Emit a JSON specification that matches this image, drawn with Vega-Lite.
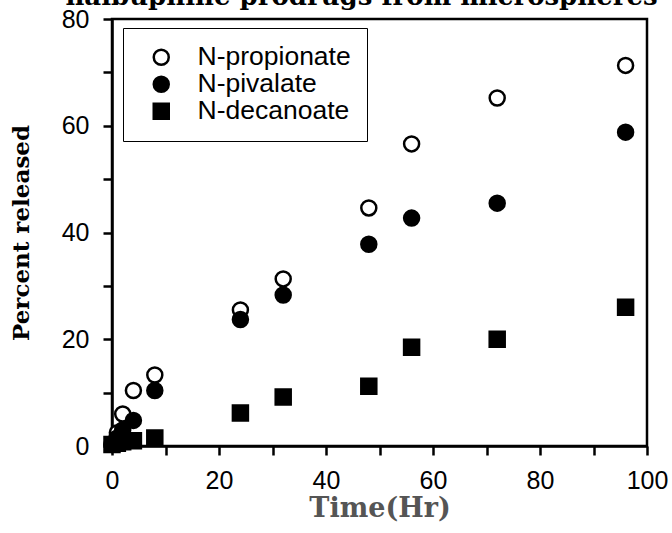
{
  "$schema": "https://vega.github.io/schema/vega-lite/v6.json",
  "width": 535,
  "height": 427,
  "autosize": {"type": "none"},
  "padding": {"left": 112, "top": 19, "right": 25, "bottom": 87},
  "background": "white",
  "title": {
    "text": "nalbuphine prodrugs from microspheres",
    "anchor": "middle",
    "dx": -18,
    "dy": 21,
    "baseline": "alphabetic",
    "offset": -3,
    "font": "DejaVu Serif",
    "fontWeight": "bold",
    "fontSize": 26,
    "color": "black"
  },
  "data": {
    "values": [
      {"ester": "N-propionate", "time": 0, "released": 0.3},
      {"ester": "N-propionate", "time": 1, "released": 2.5},
      {"ester": "N-propionate", "time": 2, "released": 6},
      {"ester": "N-propionate", "time": 4, "released": 10.4},
      {"ester": "N-propionate", "time": 8, "released": 13.3},
      {"ester": "N-propionate", "time": 24, "released": 25.5},
      {"ester": "N-propionate", "time": 32, "released": 31.3},
      {"ester": "N-propionate", "time": 48, "released": 44.6},
      {"ester": "N-propionate", "time": 56, "released": 56.6},
      {"ester": "N-propionate", "time": 72, "released": 65.2},
      {"ester": "N-propionate", "time": 96, "released": 71.3},
      {"ester": "N-pivalate", "time": 0, "released": 0.3},
      {"ester": "N-pivalate", "time": 1, "released": 1.5},
      {"ester": "N-pivalate", "time": 2, "released": 3},
      {"ester": "N-pivalate", "time": 4, "released": 4.8},
      {"ester": "N-pivalate", "time": 8, "released": 10.4},
      {"ester": "N-pivalate", "time": 24, "released": 23.7},
      {"ester": "N-pivalate", "time": 32, "released": 28.3},
      {"ester": "N-pivalate", "time": 48, "released": 37.8},
      {"ester": "N-pivalate", "time": 56, "released": 42.7},
      {"ester": "N-pivalate", "time": 72, "released": 45.5},
      {"ester": "N-pivalate", "time": 96, "released": 58.8},
      {"ester": "N-decanoate", "time": 0, "released": 0.3},
      {"ester": "N-decanoate", "time": 1, "released": 0.5},
      {"ester": "N-decanoate", "time": 2, "released": 0.8},
      {"ester": "N-decanoate", "time": 4, "released": 1},
      {"ester": "N-decanoate", "time": 8, "released": 1.5},
      {"ester": "N-decanoate", "time": 24, "released": 6.2},
      {"ester": "N-decanoate", "time": 32, "released": 9.2},
      {"ester": "N-decanoate", "time": 48, "released": 11.2},
      {"ester": "N-decanoate", "time": 56, "released": 18.5},
      {"ester": "N-decanoate", "time": 72, "released": 20},
      {"ester": "N-decanoate", "time": 96, "released": 26}
    ]
  },
  "mark": {"type": "point", "filled": true, "strokeWidth": 2.5, "size": 225, "opacity": 1},
  "encoding": {
    "x": {
      "field": "time",
      "type": "quantitative",
      "scale": {"domain": [0, 100], "nice": false, "zero": false},
      "axis": {
        "title": "Time(Hr)",
        "values": [0, 10, 20, 30, 40, 50, 60, 70, 80, 90, 100],
        "labelExpr": "datum.value % 20 === 0 ? datum.label : ''",
        "labelOverlap": false,
        "labelFlush": false,
        "grid": false,
        "domainColor": "black",
        "domainWidth": 2.5,
        "tickColor": "black",
        "tickWidth": 2.5,
        "tickSize": 9,
        "labelPadding": 13,
        "labelFont": "Liberation Sans",
        "labelFontSize": 25,
        "labelColor": "black",
        "titleFont": "DejaVu Serif",
        "titleFontWeight": "bold",
        "titleFontSize": 27,
        "titleColor": "#555555",
        "titlePadding": 2,
        "encode": {"ticks": {"update": {"y2": {"signal": "datum.value % 20 === 0 ? 9 : 5"}}}}
      }
    },
    "y": {
      "field": "released",
      "type": "quantitative",
      "scale": {"domain": [0, 80], "nice": false, "zero": false},
      "axis": {
        "title": "Percent released",
        "values": [0, 10, 20, 30, 40, 50, 60, 70, 80],
        "labelExpr": "datum.value % 20 === 0 ? datum.label : ''",
        "labelOverlap": false,
        "labelFlush": false,
        "grid": false,
        "domainColor": "black",
        "domainWidth": 2.5,
        "tickColor": "black",
        "tickWidth": 2.5,
        "tickSize": 9,
        "labelPadding": 14,
        "labelFont": "Liberation Sans",
        "labelFontSize": 25,
        "labelColor": "black",
        "titleFont": "DejaVu Serif",
        "titleFontWeight": "bold",
        "titleFontSize": 23,
        "titleColor": "black",
        "titlePadding": 28,
        "encode": {"ticks": {"update": {"x2": {"signal": "datum.value % 20 === 0 ? -9 : -5"}}}}
      }
    },
    "shape": {
      "field": "ester",
      "type": "nominal",
      "scale": {"domain": ["N-propionate", "N-pivalate", "N-decanoate"], "range": ["circle", "circle", "square"]},
      "legend": {
        "title": null,
        "orient": "none",
        "legendX": 11,
        "legendY": 9,
        "padding": 16,
        "symbolOffset": 9,
        "labelOffset": 23,
        "rowPadding": 0,
        "symbolSize": 225,
        "symbolStrokeWidth": 2.5,
        "labelFont": "Liberation Sans",
        "labelFontSize": 26.5,
        "labelColor": "black",
        "strokeColor": "black",
        "fillColor": "white",
        "encode": {"legend": {"strokeWidth": {"value": 2.5}}}
      }
    },
    "fill": {
      "field": "ester",
      "type": "nominal",
      "scale": {"domain": ["N-propionate", "N-pivalate", "N-decanoate"], "range": ["white", "black", "black"]},
      "legend": {
        "title": null,
        "orient": "none",
        "legendX": 11,
        "legendY": 9,
        "padding": 16,
        "symbolOffset": 9,
        "labelOffset": 23,
        "rowPadding": 0,
        "symbolSize": 225,
        "symbolStrokeWidth": 2.5,
        "labelFont": "Liberation Sans",
        "labelFontSize": 26.5,
        "labelColor": "black",
        "strokeColor": "black",
        "fillColor": "white",
        "encode": {"legend": {"strokeWidth": {"value": 2.5}}}
      }
    },
    "stroke": {
      "field": "ester",
      "type": "nominal",
      "scale": {"domain": ["N-propionate", "N-pivalate", "N-decanoate"], "range": ["black", "black", "black"]},
      "legend": {
        "title": null,
        "orient": "none",
        "legendX": 11,
        "legendY": 9,
        "padding": 16,
        "symbolOffset": 9,
        "labelOffset": 23,
        "rowPadding": 0,
        "symbolSize": 225,
        "symbolStrokeWidth": 2.5,
        "labelFont": "Liberation Sans",
        "labelFontSize": 26.5,
        "labelColor": "black",
        "strokeColor": "black",
        "fillColor": "white",
        "encode": {"legend": {"strokeWidth": {"value": 2.5}}}
      }
    }
  },
  "config": {
    "view": {"stroke": "black", "strokeWidth": 2.5}
  }
}
